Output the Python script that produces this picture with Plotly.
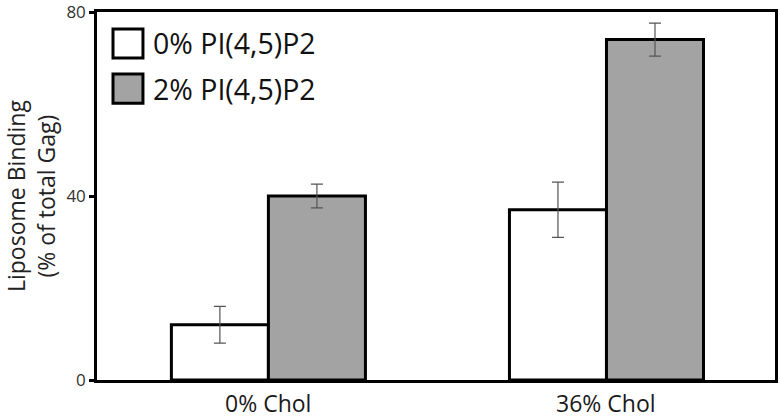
import plotly.graph_objects as go

categories = ["0% Chol", "36% Chol"]
series_names = ["0% PI(4,5)P2", "2% PI(4,5)P2"]
pip2_0 = [12, 37]
pip2_0_err = [4, 6]
pip2_2 = [40, 74]
pip2_2_err = [2.6, 3.6]
y_ticks = [0, 40, 80]

colors = ["#ffffff", "#a3a3a3"]
FONT = "Open Sans"

fig = go.Figure()
for name, vals, errs, col in [
    (series_names[0], pip2_0, pip2_0_err, colors[0]),
    (series_names[1], pip2_2, pip2_2_err, colors[1]),
]:
    fig.add_trace(go.Bar(
        x=categories, y=vals, name=name,
        marker=dict(color=col, line=dict(color="#000000", width=3)),
        error_y=dict(type="data", array=errs, visible=True,
                     color="#555555", thickness=1.2, width=6),
        showlegend=False,
    ))

# category labels under the axis
for cat in categories:
    fig.add_annotation(xref="x", yref="paper", x=cat, y=-0.062,
                       text=cat, showarrow=False, xanchor="center", yanchor="middle",
                       font=dict(family=FONT, size=23, color="#1a1a1a"))

# custom legend (large swatches)
leg_y = [(0.954, 0.875), (0.8315, 0.752)]
for (y1, y0), col, name in zip(leg_y, colors, series_names):
    fig.add_shape(type="rect", xref="paper", yref="paper",
                  x0=0.0236, x1=0.0678, y0=y0, y1=y1,
                  fillcolor=col, line=dict(color="#000000", width=3))
    fig.add_annotation(xref="paper", yref="paper", x=0.08, y=(y0 + y1) / 2,
                       text=name, showarrow=False, xanchor="left", yanchor="middle",
                       font=dict(family=FONT, size=28.5, color="#111111"))

fig.add_annotation(xref="paper", yref="paper", x=-0.0973, y=0.5,
                   text="Liposome Binding<br>(% of total Gag)", textangle=-90,
                   showarrow=False, xanchor="center", yanchor="middle",
                   font=dict(family=FONT, size=23, color="#222222"))

fig.update_layout(
    width=780, height=419,
    margin=dict(l=97, r=5, t=12, b=39),
    plot_bgcolor="#ffffff", paper_bgcolor="#ffffff",
    barmode="group", bargap=0.426, bargroupgap=0,
    font=dict(family=FONT, color="#222222"),
)
fig.update_xaxes(range=[-0.507, 1.4985], showline=True, linecolor="#000000",
                 linewidth=2.5, mirror=True,
                 ticks="", showgrid=False, showticklabels=False, automargin=False)
fig.update_yaxes(range=[0, 80], tickvals=y_ticks, showline=True, linecolor="#000000",
                 linewidth=2.5, mirror=True, ticks="outside", ticklen=5, tickwidth=2.5,
                 tickcolor="#000000", showgrid=False, zeroline=False, automargin=False,
                 ticklabeloverflow="allow",
                 tickfont=dict(family=FONT, size=17, color="#333333"))

fig.write_html("out.html", config={"displayModeBar": False},
               post_script="document.body.style.margin='0';")
